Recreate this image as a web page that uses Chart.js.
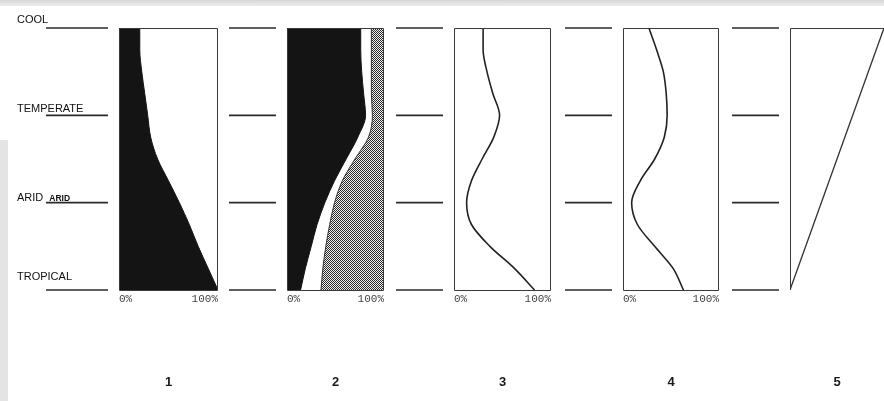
<!DOCTYPE html>
<html>
<head>
<meta charset="utf-8">
<script src="https://cdn.jsdelivr.net/npm/chart.js@4.4.1/dist/chart.umd.min.js"></script>
<style>
  html, body { margin: 0; padding: 0; background: #fff; }
  #wrap { position: relative; width: 884px; height: 401px; overflow: hidden; background: #fff; }
  #wrap canvas { position: absolute; left: 0; top: 0; }
  .scan-top { position: absolute; left: 0; top: 0; width: 884px; height: 6px; background: linear-gradient(#d6d6d6, #ececec); }
  .scan-left { position: absolute; left: 0; top: 140px; width: 8px; height: 261px; background: #e4e4e4; }
</style>
</head>
<body>
<div id="wrap">
  <div class="scan-top"></div>
  <div class="scan-left"></div>
  <canvas id="c0" width="884" height="401"></canvas>
  <canvas id="c1" width="884" height="401"></canvas>
  <canvas id="c2" width="884" height="401"></canvas>
  <canvas id="c3" width="884" height="401"></canvas>
  <canvas id="c4" width="884" height="401"></canvas>
</div>
<script>
// ---------------- DATA ----------------
const climates = ['COOL', 'TEMPERATE', 'ARID', 'TROPICAL'];   // top to bottom
const climateLevels = [0, 1, 2, 3];                             // y-scale value of each climate line
const panelNames = ['1', '2', '3', '4', '5'];
const xTickValues = [0, 100];                                   // shown as 0% / 100%

// sampling positions down each column (0 = cool ... 3 = tropical)
const depth = [0, 0.25, 0.5, 0.75, 1, 1.25, 1.5, 1.75, 2, 2.25, 2.5, 2.75, 3];

// panel 1: edge of black share (%)
const p1Dark  = [21, 21, 23, 26, 29, 32, 39, 50, 61, 71, 80, 90, 100];
// panel 2: edge of black share, and start of hatched share (%)
const p2Dark  = [76, 76, 77, 79, 81, 73, 61, 49, 39, 31, 25, 19, 14];
const p2Hatch = [87, 87, 87, 87, 88, 84, 70, 57, 49, 44, 40, 37, 35];
// panel 3 and 4 curves (%)
const p3Curve = [30, 30, 34, 40, 47, 41, 29, 18, 13, 18, 37, 62, 83];
const p4Curve = [27, 35, 42, 45, 46, 43, 33, 18, 9, 15, 33, 52, 63];
// panel 5 diagonal
const p5Values = [100, 0];
const p5Depth  = [0, 3];

// ---------------- LAYOUT ----------------
const W = 884, H = 401, TOP = 28, BOTTOM = 290, AXIS_H = 14;
const panels = [
  { l: 119, r: 218 },
  { l: 287, r: 384 },
  { l: 454, r: 551 },
  { l: 623, r: 719 },
  { l: 790, r: 884 }
];

const pts = (vals, ys) => vals.map((v, i) => ({ x: v, y: ys[i] }));

function hatchPattern() {
  const c = document.createElement('canvas');
  c.width = 2; c.height = 2;
  const g = c.getContext('2d');
  g.fillStyle = '#f0f0f0'; g.fillRect(0, 0, 2, 2);
  g.fillStyle = '#2a2a2a';
  g.fillRect(0, 0, 1, 1); g.fillRect(1, 1, 1, 1);
  return g.createPattern(c, 'repeat');
}

const framePlugin = {
  id: 'frame',
  afterDatasetsDraw(chart, args, opts) {
    const ctx = chart.ctx;
    const a = chart.chartArea;
    const ys = chart.scales.y;
    ctx.save();
    // panel frame
    ctx.strokeStyle = '#3a3a3a';
    ctx.lineWidth = 1;
    ctx.beginPath();
    if (opts.sides === 'topLeft') {
      ctx.moveTo(a.right, a.top + 0.5); ctx.lineTo(a.left + 0.5, a.top + 0.5); ctx.lineTo(a.left + 0.5, a.bottom);
    } else {
      ctx.rect(a.left + 0.5, a.top + 0.5, a.right - a.left - 1, a.bottom - a.top);
    }
    ctx.stroke();

    // horizontal climate lines to the left of this panel
    const x0 = opts.index === 0 ? 46 : a.left - 58;
    const x1 = a.left - 11;
    ctx.strokeStyle = '#2a2a2a';
    ctx.lineWidth = 1.6;
    climateLevels.forEach(v => {
      const y = ys.getPixelForValue(v);
      ctx.beginPath(); ctx.moveTo(x0, y); ctx.lineTo(x1, y); ctx.stroke();
    });

    // climate names (first panel only)
    if (opts.index === 0) {
      ctx.fillStyle = '#111';
      ctx.textBaseline = 'alphabetic';
      ctx.textAlign = 'left';
      const off = [5, 3, 2, 10];
      climates.forEach((name, i) => {
        const y = ys.getPixelForValue(climateLevels[i]) - off[i];
        ctx.font = '11px "Liberation Sans", Arial, sans-serif';
        ctx.fillText(name, 17, y);
        if (name === 'ARID') {
          const w = ctx.measureText(name).width;
          ctx.font = 'bold 8.5px "Liberation Sans", Arial, sans-serif';
          ctx.fillText(name, 17 + w + 6, y);
        }
      });
    }

    // panel number
    ctx.fillStyle = '#1a1a1a';
    ctx.font = 'bold 13px "Liberation Sans", Arial, sans-serif';
    ctx.textAlign = 'center';
    ctx.textBaseline = 'middle';
    ctx.fillText(panelNames[opts.index], (a.left + a.right) / 2, 382);
    ctx.restore();
  }
};

function makeChart(i, datasets, showTicks, sides) {
  const P = panels[i];
  return new Chart(document.getElementById('c' + i), {
    type: 'line',
    data: { datasets },
    options: {
      responsive: false,
      animation: false,
      devicePixelRatio: 1,
      indexAxis: 'y',
      layout: {
        padding: {
          left: P.l,
          right: W - P.r,
          top: TOP,
          bottom: showTicks ? H - BOTTOM - AXIS_H : H - BOTTOM
        }
      },
      elements: { point: { radius: 0, hoverRadius: 0 }, line: { cubicInterpolationMode: 'monotone' } },
      plugins: {
        legend: { display: false },
        tooltip: { enabled: false },
        frame: { index: i, sides }
      },
      scales: {
        x: {
          type: 'linear', min: 0, max: 100,
          display: showTicks,
          grid: { display: false, drawTicks: false },
          border: { display: false },
          afterFit: s => { if (showTicks) s.height = AXIS_H; },
          ticks: {
            stepSize: 100,
            align: 'inner',
            padding: 2,
            color: '#444',
            font: { family: '"Liberation Mono", "DejaVu Sans Mono", monospace', size: 11 },
            callback: v => xTickValues.includes(v) ? v + '%' : ''
          }
        },
        y: { type: 'linear', min: 0, max: 3, reverse: true, display: false }
      }
    },
    plugins: [framePlugin]
  });
}

const dark = '#141414';

makeChart(0, [
  { data: pts(p1Dark, depth), borderColor: dark, borderWidth: 1, backgroundColor: dark, fill: { value: 0 } }
], true, 'all');

makeChart(1, [
  { data: pts(p2Dark, depth), borderColor: dark, borderWidth: 1, backgroundColor: dark, fill: { value: 0 } },
  { data: pts(p2Hatch, depth), borderColor: '#333', borderWidth: 1, backgroundColor: hatchPattern(), fill: { value: 100 } }
], true, 'all');

makeChart(2, [
  { data: pts(p3Curve, depth), borderColor: '#222', borderWidth: 1.6, fill: false }
], true, 'all');

makeChart(3, [
  { data: pts(p4Curve, depth), borderColor: '#222', borderWidth: 1.6, fill: false }
], true, 'all');

makeChart(4, [
  { data: pts(p5Values, p5Depth), borderColor: '#333', borderWidth: 1.3, fill: false, cubicInterpolationMode: 'default', tension: 0 }
], false, 'topLeft');
</script>
</body>
</html>
